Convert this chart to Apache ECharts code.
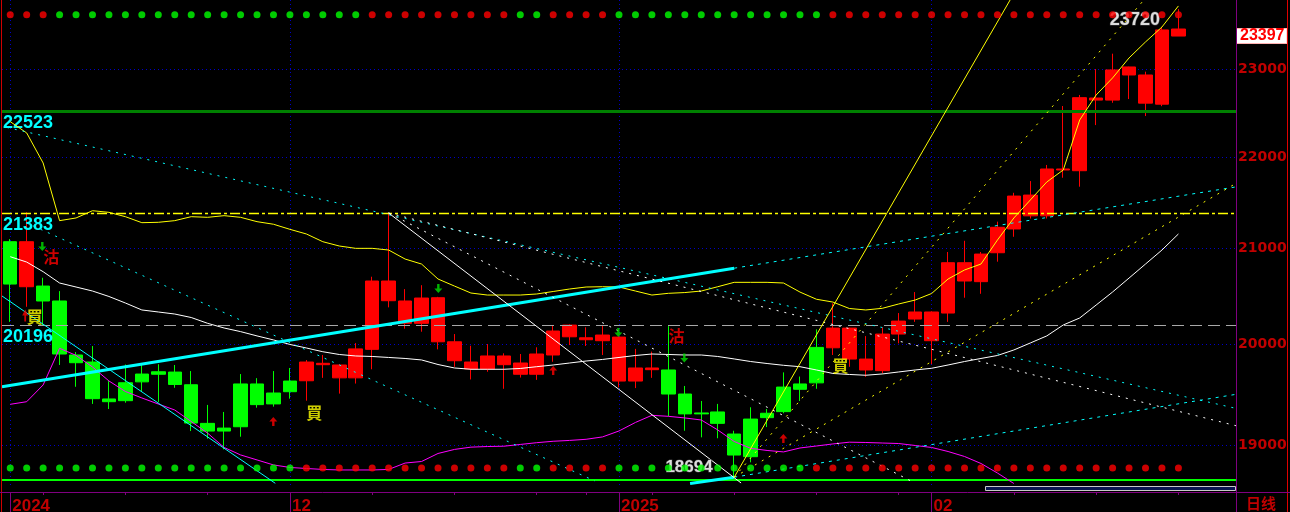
<!DOCTYPE html>
<html>
<head>
<meta charset="utf-8">
<script src="https://cdn.jsdelivr.net/npm/echarts@6/dist/echarts.min.js"></script>
<style>
html,body{margin:0;padding:0;background:#000;overflow:hidden}
#chart{width:1290px;height:512px}
</style>
</head>
<body>
<div id="chart"></div>
<script>
// ---------------- data ----------------
const categories = ['2024-11-07','2024-11-08','2024-11-11','2024-11-12','2024-11-13','2024-11-14','2024-11-15','2024-11-18','2024-11-19','2024-11-20','2024-11-21','2024-11-22','2024-11-25','2024-11-26','2024-11-27','2024-11-28','2024-11-29',
'2024-12-02','2024-12-03','2024-12-04','2024-12-05','2024-12-06','2024-12-09','2024-12-10','2024-12-11','2024-12-12','2024-12-13','2024-12-16','2024-12-17','2024-12-18','2024-12-19','2024-12-20','2024-12-23','2024-12-24','2024-12-27','2024-12-30','2024-12-31',
'2025-01-02','2025-01-03','2025-01-06','2025-01-07','2025-01-08','2025-01-09','2025-01-10','2025-01-13','2025-01-14','2025-01-15','2025-01-16','2025-01-17','2025-01-20','2025-01-21','2025-01-22','2025-01-23','2025-01-24','2025-01-27','2025-01-28',
'2025-02-03','2025-02-04','2025-02-05','2025-02-06','2025-02-07','2025-02-10','2025-02-11','2025-02-12','2025-02-13','2025-02-14','2025-02-17','2025-02-18','2025-02-19','2025-02-20','2025-02-21','2025-02-24'];
const emptySlots = ['2025-02-25','2025-02-26','2025-02-27'];

const opens  = [21073,20596,20603,20447,19893,19822,19453,19614,19701,19724,19721,19594,19213,19167,19602,19602,19512,19631,19634,19795,19663,19663,19950,20450,20216,20216,20027,19835,19752,19752,19795,19699,19699,19893,20078,20048,20038,19631,19631,19745,19742,19502,19315,19325,19109,19255,19312,19571,19602,19970,19966,19852,19742,19735,20106,20260,20038,20322,20656,20649,20955,21210,21352,21352,21856,21848,22647,22647,22938,22612,22600,23397];
const closes = [20624,21073,20447,19903,19815,19456,19426,19436,19623,19699,19597,19216,19138,19138,19180,19397,19404,19525,19822,19809,19792,19955,20656,20656,20447,20478,20481,20027,19822,19883,19883,19812,19903,20137,20198,20068,20096,20075,19762,19762,19502,19306,19306,19213,18906,18890,19269,19328,19549,19613,20167,20167,19852,20106,20239,20333,20333,20849,20849,20941,21228,21568,21579,21867,21867,22675,22671,22997,23032,22938,23470,23481];
const lows   = [20231,20387,20198,19792,19574,19404,19354,19416,19525,19423,19564,19138,19064,18961,19083,19367,19377,19456,19436,19663,19506,19606,19749,20381,20161,20130,19950,19774,19647,19724,19554,19666,19643,19825,19994,19984,19893,19568,19561,19663,19283,19141,19077,19068,18694,18836,19177,19312,19433,19554,19893,19774,19673,19708,20011,20231,19800,20231,20481,20522,20860,21126,21323,21323,21770,21671,22361,22616,22659,22464,22577,23397];
const highs  = [21101,21390,20690,20550,19923,19984,19631,19797,19792,19800,19792,19731,19394,19325,19701,19660,19731,19762,19842,19893,19800,20014,20701,21383,20571,20612,20490,20106,19987,20004,19910,19903,19971,20198,20205,20175,20195,20080,19955,19927,20187,19582,19433,19404,19141,19371,19354,19718,19676,20154,20423,20170,20085,20175,20322,20540,20340,20963,21083,20963,21289,21604,21733,21912,22579,22706,23008,23188,23035,22977,23506,23720];

const bollUpper = [22400,22272,21934,21300,21329,21408,21390,21343,21278,21282,21300,21343,21336,21354,21336,21289,21261,21206,21156,21073,21027,21002,21002,20984,20888,20835,20677,20603,20530,20509,20509,20509,20520,20546,20572,20593,20596,20593,20551,20509,20527,20535,20551,20596,20642,20642,20642,20635,20540,20465,20436,20369,20354,20371,20416,20457,20525,20677,20772,20835,21091,21329,21525,21723,21856,22419,22706,22904,23138,23327,23505,23758];
const bollMid   = [20913,20856,20754,20635,20593,20551,20494,20426,20354,20333,20312,20276,20216,20168,20131,20087,20046,20000,19964,19926,19898,19883,19878,19868,19858,19843,19797,19762,19749,19749,19749,19757,19775,19792,19812,19832,19848,19868,19888,19903,19898,19893,19893,19878,19853,19827,19807,19789,19775,19742,19707,19697,19689,19702,19722,19742,19759,19792,19827,19858,19888,19944,20015,20087,20199,20271,20405,20541,20687,20835,20984,21156];
const bollLower = [19400,19426,19592,19961,19889,19772,19632,19527,19463,19403,19344,19231,19117,18979,18907,18859,18811,18787,18777,18768,18763,18763,18763,18768,18829,18844,18921,18960,18982,18988,18991,19008,19025,19039,19047,19058,19081,19139,19222,19292,19282,19266,19246,19149,19037,18971,18950,18936,18974,18993,19013,19030,19027,19022,19017,18998,18979,18940,18892,18825,18734,18634,null,null,null,null,null,null,null,null,null,null];

// signal strips: 1 = red, 0 = green
const topSignal    = [1,1,1,0,0,0,0,0,0,0,0,0,0,0,0,0,0,0,0,0,0,0,1,1,1,1,1,1,1,1,1,0,0,1,1,1,1,0,0,0,0,0,0,0,0,0,0,0,0,0,1,1,1,1,1,1,1,1,1,1,1,1,1,1,1,1,1,1,1,1,1,1];
const bottomSignal = [0,0,0,0,0,0,0,0,0,0,0,0,0,0,0,0,0,0,1,1,1,1,1,1,1,1,1,1,1,1,1,0,0,1,1,1,1,0,0,0,0,0,0,0,0,0,0,0,0,1,1,1,1,1,1,1,1,1,1,1,1,1,1,1,1,1,1,1,1,1,1,1];

const gridValues = [19000, 20000, 21000, 22000, 23000];
const monthTickIndex = [0, 17, 37, 56];
const monthTickLabels = ['2024', '12', '2025', '02'];
const weekTickIndex = [2, 7, 12, 22, 27, 32, 35, 39, 44, 49, 54, 61, 66, 71];
const resistanceLevel = 22523;
const prevHighLevel = 21383;
const pivotLevel = 20196;
const floorLevel = 18668;
const lastPrice = 23397;
const periodHigh = 23720;
const periodLow = 18694;

// drawn trend lines: [barPosition, price] end points
const channelUpper     = [[-0.5, 19575], [44, 20791]];
const channelUpperExt  = [[44, 20791], [74.5, 21669]];
const channelLower     = [[41.32, 18634], [44, 18694]];
const channelLowerExt  = [[44, 18694], [74.5, 19499]];
const longDownCyan     = [[-0.2, 22334], [74.5, 19360]];
const steepDownCyan    = [[0.96, 21278], [35.52, 18659]];
const thinCyan         = [[-0.5, 20499], [16.11, 18636]];
const fanSolidWhite    = [[23, 21383], [44.42, 18639]];
const fanDotWhiteA     = [[23, 21383], [54.98, 18639]];
const fanDotWhiteB     = [[23, 21383], [74.5, 19190]];
const fanSolidYellow   = [[44, 18694], [60.77, 23830]];
const fanDotYellowA    = [[44, 18694], [68.9, 23830]];
const fanDotYellowB    = [[44, 18694], [74.5, 21708]];

// signal markers: [barPosition, price]
const buyMarks  = [[1.49, 20281], [18.48, 19320], [50.46, 19787]];
const sellMarks = [[2.49, 20915], [40.49, 20086]];
const upArrows  = [[15.99, 19231], [33.0, 19737], [46.99, 19066]];
const smallUpArrows = [[0.91, 20297]];
const downArrows = [[1.95, 21021], [26.02, 20577], [36.96, 20122], [40.97, 19862]];

// ---------------- chart ----------------
const RED = '#ff0000', GREEN = '#00ff00', CYAN = '#00ffff', YELLOW = '#ffff00';
const AXIS_RED = '#c00000', PURPLE = '#800080';
const TOP_ROW = 23653, BOTTOM_ROW = 18782;
const axisCats = categories.concat(emptySlots);
const kData = categories.map((c, i) => [opens[i], closes[i], lows[i], highs[i]]);

const UP_PATH = 'path://M5,0L10,5L6.5,5L6.5,10L3.5,10L3.5,5L0,5Z';
const DOWN_PATH = 'path://M3.5,0L6.5,0L6.5,5L10,5L5,10L0,5L3.5,5Z';

function trend(points, color, width, type) {
  return {
    type: 'line', xAxisIndex: 2, yAxisIndex: 0, data: points, symbol: 'none',
    silent: true, z: 4, animation: false,
    lineStyle: { color: color, width: width, type: type || 'solid' }
  };
}
const DOT = [2, 6];

const gridMarks = gridValues.map(v => ({
  name: String(v), yAxis: v,
  lineStyle: { color: '#0000c8', width: 1, type: [1, 3] },
  label: { show: true, position: 'end', distance: 2, formatter: '{b}', color: AXIS_RED,
    fontFamily: 'DejaVu Sans', fontWeight: 'bold', fontSize: 14 }
}));
const vMarks = monthTickIndex.map(i => ({
  xAxis: categories[i], lineStyle: { color: '#0000c8', width: 1, type: [1, 3] }, label: { show: false }
}));

const levelLabel = { show: true, position: 'insideStartBottom', distance: [1, 3], formatter: '{b}',
  color: CYAN, fontFamily: 'Liberation Sans', fontWeight: 'bold', fontSize: 18 };

const extremeLabelStyle = { color: '#dcdcdc', fontFamily: 'Liberation Sans', fontWeight: 'bold',
  textBorderColor: '#404040', textBorderWidth: 1 };

const option = {
  backgroundColor: '#000000',
  animation: false,
  grid: { left: 2, right: 54, top: 0, bottom: 27, containLabel: false, outerBoundsMode: 'none' },
  xAxis: [
    {
      type: 'category', data: axisCats, position: 'bottom', offset: 7, boundaryGap: true,
      axisLine: { show: false },
      axisTick: { show: true, alignWithLabel: true, length: 20,
        interval: (i) => monthTickIndex.indexOf(i) >= 0, lineStyle: { color: PURPLE } },
      axisLabel: { show: true, interval: (i) => monthTickIndex.indexOf(i) >= 0,
        formatter: (v, i) => { const k = monthTickIndex.indexOf(i); return k >= 0 ? monthTickLabels[k] : ''; },
        align: 'left', verticalAlign: 'top', margin: 6, padding: [0, 0, 0, 2],
        color: AXIS_RED, fontFamily: 'Liberation Sans', fontWeight: 'bold', fontSize: 17 },
      splitLine: { show: false },
      name: '日线', nameLocation: 'end', nameGap: 10,
      nameTextStyle: { color: AXIS_RED, fontFamily: 'Noto Sans CJK SC', fontWeight: 'bold', fontSize: 15,
        align: 'left', verticalAlign: 'top', padding: [4, 0, 0, 0] }
    },
    {
      type: 'category', data: axisCats, position: 'bottom', offset: 7, boundaryGap: true,
      axisLine: { show: false },
      axisTick: { show: true, alignWithLabel: true, length: 3,
        interval: (i) => weekTickIndex.indexOf(i) >= 0, lineStyle: { color: PURPLE } },
      axisLabel: { show: false }, splitLine: { show: false }
    },
    { type: 'value', min: -0.5, max: 74.5, position: 'top', show: false, splitLine: { show: false } }
  ],
  yAxis: [
    { type: 'log', logBase: 10, min: 18620, max: 23830, position: 'right',
      axisLine: { show: false }, axisTick: { show: false }, axisLabel: { show: false }, splitLine: { show: false } }
  ],
  series: [
    {
      type: 'candlestick', name: 'K', data: kData, barWidth: 14, z: 2,
      itemStyle: { color: RED, color0: GREEN, borderColor: RED, borderColor0: GREEN, borderWidth: 1 },
      markLine: {
        silent: true, symbol: ['none', 'none'], z: 1, animation: false,
        data: gridMarks.concat(vMarks).concat([
          { name: String(lastPrice), yAxis: lastPrice,
            lineStyle: { color: 'rgba(0,0,0,0)', width: 0 },
            label: { show: true, position: 'end', distance: 1, formatter: '{b}', color: RED,
              backgroundColor: '#ffffff', borderColor: '#ffb0b0', borderWidth: 1,
              padding: [1, 2, 0, 3], lineHeight: 13,
              fontFamily: 'Liberation Sans', fontWeight: 'bold', fontSize: 16 } }
        ])
      },
      markPoint: {
        silent: true, symbol: 'circle', symbolSize: 1, animation: false,
        itemStyle: { color: 'rgba(0,0,0,0)' },
        data: [
          { name: String(periodHigh), coord: [categories[71], periodHigh], value: periodHigh,
            label: Object.assign({ show: true, position: 'left', distance: 18, offset: [0, 11], formatter: '{b}',
              fontSize: 18 }, extremeLabelStyle) },
          { name: String(periodLow), coord: [categories[44], periodLow], value: periodLow,
            label: Object.assign({ show: true, position: 'left', distance: 21, offset: [0, -10], formatter: '{b}',
              fontSize: 17 }, extremeLabelStyle) }
        ]
      }
    },
    { type: 'line', name: 'upper', data: bollUpper, symbol: 'none', z: 3, lineStyle: { color: YELLOW, width: 1 },
      markLine: {
        silent: true, symbol: ['none', 'none'], z: 3, animation: false,
        data: [
          { name: String(resistanceLevel), yAxis: resistanceLevel, lineStyle: { color: '#008000', width: 3, type: 'solid' }, label: levelLabel },
          { name: String(prevHighLevel), yAxis: prevHighLevel, lineStyle: { color: YELLOW, width: 1.3, type: [10, 3, 3, 3] }, label: levelLabel },
          { name: String(pivotLevel), yAxis: pivotLevel, lineStyle: { color: '#a8a8a8', width: 1, type: [12, 6] }, label: levelLabel },
          { name: 'floor', yAxis: floorLevel, lineStyle: { color: GREEN, width: 2, type: 'solid' }, label: { show: false } }
        ]
      }
    },
    { type: 'line', name: 'mid', data: bollMid, symbol: 'none', z: 3, lineStyle: { color: '#ffffff', width: 1 } },
    { type: 'line', name: 'lower', data: bollLower, symbol: 'none', z: 3, connectNulls: false, lineStyle: { color: '#ff00ff', width: 1 } },

    trend(channelUpper, CYAN, 3),
    trend(channelUpperExt, CYAN, 1, [3, 5]),
    trend(channelLower, CYAN, 3),
    trend(channelLowerExt, CYAN, 1, [3, 5]),
    trend(longDownCyan, CYAN, 1, DOT),
    trend(steepDownCyan, CYAN, 1, DOT),
    trend(thinCyan, CYAN, 1),
    trend(fanSolidWhite, '#ffffff', 1),
    trend(fanDotWhiteA, '#ffffff', 1, DOT),
    trend(fanDotWhiteB, '#ffffff', 1, DOT),
    trend(fanSolidYellow, YELLOW, 1),
    trend(fanDotYellowA, YELLOW, 1, DOT),
    trend(fanDotYellowB, YELLOW, 1, DOT),

    { type: 'scatter', name: 'topStrip', xAxisIndex: 0, yAxisIndex: 0, symbolSize: 7, z: 5, silent: true,
      data: topSignal.map((s, i) => ({ value: [i, TOP_ROW], itemStyle: { color: s ? RED : GREEN } })) },
    { type: 'scatter', name: 'bottomStrip', xAxisIndex: 0, yAxisIndex: 0, symbolSize: 7, z: 5, silent: true,
      data: bottomSignal.map((s, i) => ({ value: [i, BOTTOM_ROW], itemStyle: { color: s ? RED : GREEN } })) },

    { type: 'scatter', name: 'buy', xAxisIndex: 2, yAxisIndex: 0, data: buyMarks, symbolSize: 1, z: 6, silent: true,
      itemStyle: { color: 'rgba(0,0,0,0)' },
      label: { show: true, position: 'inside', formatter: '買', color: YELLOW,
        fontFamily: 'Noto Sans CJK TC', fontWeight: 'bold', fontSize: 16 } },
    { type: 'scatter', name: 'sell', xAxisIndex: 2, yAxisIndex: 0, data: sellMarks, symbolSize: 1, z: 6, silent: true,
      itemStyle: { color: 'rgba(0,0,0,0)' },
      label: { show: true, position: 'inside', formatter: '沽', color: RED,
        fontFamily: 'Noto Sans CJK TC', fontWeight: 'bold', fontSize: 16 } },
    { type: 'scatter', name: 'up', xAxisIndex: 2, yAxisIndex: 0, data: upArrows, symbol: UP_PATH, symbolSize: [8, 9], z: 6, silent: true,
      itemStyle: { color: RED } },
    { type: 'scatter', name: 'upSmall', xAxisIndex: 2, yAxisIndex: 0, data: smallUpArrows, symbol: UP_PATH, symbolSize: [6, 12], z: 6, silent: true,
      itemStyle: { color: RED } },
    { type: 'scatter', name: 'down', xAxisIndex: 2, yAxisIndex: 0, data: downArrows, symbol: DOWN_PATH, symbolSize: [8, 9], z: 6, silent: true,
      itemStyle: { color: '#00e000' } }
  ],
  graphic: [
    { type: 'line', silent: true, z: 10, shape: { x1: 1.5, y1: 0, x2: 1.5, y2: 512 }, style: { stroke: '#d00000', lineWidth: 1 } },
    { type: 'line', silent: true, z: 10, shape: { x1: 1236.5, y1: 0, x2: 1236.5, y2: 512 }, style: { stroke: PURPLE, lineWidth: 1 } },
    { type: 'line', silent: true, z: 10, shape: { x1: 1287.5, y1: 0, x2: 1287.5, y2: 512 }, style: { stroke: '#e00000', lineWidth: 1 } },
    { type: 'line', silent: true, z: 10, shape: { x1: 0, y1: 492.5, x2: 1290, y2: 492.5 }, style: { stroke: PURPLE, lineWidth: 1 } },
    { type: 'rect', silent: true, z: 10, shape: { x: 985.5, y: 486.5, width: 250, height: 4 }, style: { fill: '#0a1450', stroke: '#c8c8c8', lineWidth: 1 } }
  ]
};

const chart = echarts.init(document.getElementById('chart'), null, { renderer: 'canvas' });
chart.setOption(option);
</script>
</body>
</html>
